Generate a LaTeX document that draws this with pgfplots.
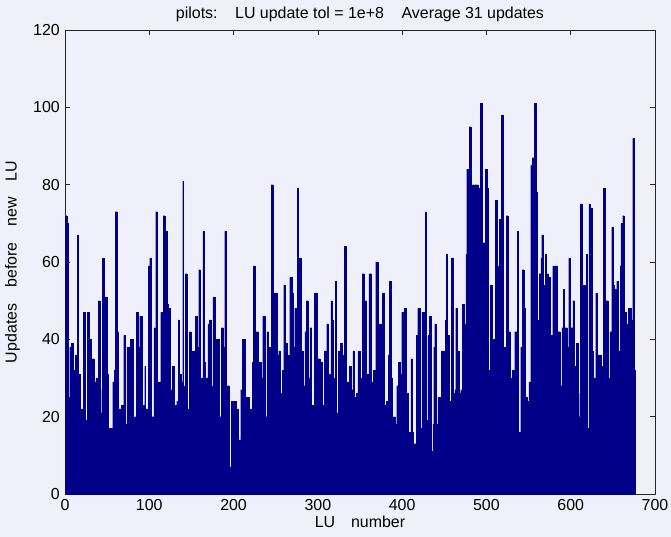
\documentclass[border=0pt]{standalone}
\usepackage{pgfplots}
\usepackage{pgfplotstable}
\pgfplotsset{compat=1.18}
\usepackage{fontspec}
\setmainfont{Liberation Sans}
\definecolor{bgcol}{RGB}{240,240,250}
\definecolor{barcol}{RGB}{0,0,136}

% updates per LU factorization, bars 1..676
\pgfplotstableread[row sep=\\]{
v\\
72\\ 72\\ 70\\ 25\\ 25\\ 38\\ 38\\ 39\\ 39\\ 32\\
32\\ 31\\ 36\\ 31\\ 67\\ 31\\ 31\\ 12\\ 22\\ 22\\
10\\ 47\\ 47\\ 19\\ 9\\ 19\\ 47\\ 47\\ 40\\ 40\\
32\\ 28\\ 35\\ 35\\ 29\\ 29\\ 30\\ 30\\ 30\\ 50\\
50\\ 21\\ 21\\ 27\\ 61\\ 61\\ 51\\ 51\\ 51\\ 31\\
31\\ 12\\ 17\\ 17\\ 17\\ 17\\ 29\\ 29\\ 32\\ 73\\
73\\ 42\\ 42\\ 22\\ 22\\ 22\\ 23\\ 23\\ 23\\ 41\\
41\\ 18\\ 18\\ 38\\ 38\\ 29\\ 29\\ 40\\ 40\\ 40\\
19\\ 19\\ 20\\ 20\\ 47\\ 47\\ 38\\ 38\\ 46\\ 46\\
46\\ 23\\ 23\\ 10\\ 33\\ 22\\ 22\\ 22\\ 59\\ 59\\
61\\ 61\\ 20\\ 20\\ 20\\ 43\\ 10\\ 73\\ 73\\ 20\\
29\\ 29\\ 29\\ 47\\ 47\\ 47\\ 72\\ 72\\ 68\\ 68\\
49\\ 49\\ 48\\ 48\\ 8\\ 27\\ 27\\ 33\\ 33\\ 23\\
23\\ 23\\ 24\\ 4\\ 45\\ 31\\ 31\\ 29\\ 29\\ 81\\
28\\ 4\\ 57\\ 57\\ 22\\ 22\\ 22\\ 42\\ 42\\ 37\\
25\\ 37\\ 37\\ 37\\ 46\\ 46\\ 38\\ 38\\ 58\\ 58\\
30\\ 30\\ 30\\ 68\\ 34\\ 34\\ 30\\ 30\\ 30\\ 44\\
44\\ 45\\ 45\\ 28\\ 18\\ 51\\ 51\\ 40\\ 40\\ 40\\
40\\ 40\\ 12\\ 20\\ 20\\ 43\\ 43\\ 38\\ 38\\ 68\\
20\\ 20\\ 28\\ 28\\ 7\\ 7\\ 7\\ 24\\ 24\\ 24\\
24\\ 24\\ 24\\ 22\\ 22\\ 14\\ 14\\ 14\\ 27\\ 27\\
40\\ 40\\ 40\\ 25\\ 25\\ 25\\ 25\\ 25\\ 22\\ 22\\
15\\ 15\\ 34\\ 59\\ 59\\ 42\\ 42\\ 42\\ 42\\ 34\\
34\\ 34\\ 30\\ 30\\ 46\\ 46\\ 46\\ 20\\ 20\\ 42\\
42\\ 28\\ 38\\ 38\\ 80\\ 80\\ 49\\ 49\\ 52\\ 52\\
52\\ 36\\ 16\\ 37\\ 37\\ 26\\ 26\\ 32\\ 32\\ 54\\
54\\ 39\\ 39\\ 36\\ 36\\ 17\\ 56\\ 56\\ 56\\ 52\\
38\\ 38\\ 48\\ 48\\ 38\\ 79\\ 61\\ 61\\ 61\\ 37\\
22\\ 37\\ 28\\ 28\\ 42\\ 42\\ 50\\ 50\\ 30\\ 30\\
43\\ 43\\ 23\\ 23\\ 23\\ 52\\ 52\\ 52\\ 24\\ 24\\
35\\ 35\\ 34\\ 34\\ 34\\ 23\\ 23\\ 37\\ 37\\ 37\\
44\\ 44\\ 31\\ 31\\ 31\\ 50\\ 45\\ 45\\ 30\\ 30\\
55\\ 21\\ 21\\ 21\\ 37\\ 37\\ 39\\ 39\\ 36\\ 36\\
36\\ 64\\ 64\\ 29\\ 29\\ 29\\ 15\\ 33\\ 33\\ 27\\
27\\ 37\\ 37\\ 25\\ 12\\ 26\\ 26\\ 37\\ 37\\ 30\\
30\\ 30\\ 57\\ 57\\ 22\\ 50\\ 50\\ 31\\ 31\\ 31\\
57\\ 57\\ 57\\ 29\\ 4\\ 32\\ 32\\ 32\\ 60\\ 60\\
60\\ 44\\ 44\\ 44\\ 16\\ 16\\ 52\\ 52\\ 23\\ 23\\
23\\ 24\\ 24\\ 36\\ 55\\ 55\\ 30\\ 30\\ 20\\ 10\\
20\\ 18\\ 18\\ 28\\ 28\\ 34\\ 34\\ 31\\ 31\\ 47\\
47\\ 47\\ 48\\ 48\\ 26\\ 26\\ 23\\ 8\\ 16\\ 16\\
35\\ 16\\ 16\\ 4\\ 13\\ 13\\ 41\\ 41\\ 48\\ 48\\
48\\ 17\\ 4\\ 47\\ 47\\ 38\\ 38\\ 73\\ 19\\ 19\\
41\\ 41\\ 46\\ 46\\ 11\\ 11\\ 18\\ 38\\ 44\\ 44\\
18\\ 8\\ 25\\ 25\\ 24\\ 24\\ 37\\ 37\\ 37\\ 10\\
10\\ 45\\ 62\\ 41\\ 41\\ 24\\ 24\\ 24\\ 61\\ 61\\
26\\ 26\\ 27\\ 48\\ 48\\ 37\\ 37\\ 26\\ 26\\ 27\\
8\\ 49\\ 49\\ 44\\ 44\\ 62\\ 84\\ 84\\ 74\\ 95\\
95\\ 57\\ 57\\ 80\\ 80\\ 37\\ 80\\ 80\\ 80\\ 77\\
77\\ 79\\ 101\\ 101\\ 65\\ 65\\ 65\\ 30\\ 84\\ 84\\
79\\ 79\\ 32\\ 30\\ 54\\ 54\\ 40\\ 40\\ 24\\ 24\\
76\\ 76\\ 23\\ 59\\ 59\\ 71\\ 71\\ 98\\ 98\\ 30\\
30\\ 38\\ 38\\ 72\\ 72\\ 10\\ 42\\ 42\\ 30\\ 30\\
32\\ 32\\ 32\\ 42\\ 42\\ 42\\ 68\\ 13\\ 16\\ 16\\
38\\ 38\\ 58\\ 58\\ 48\\ 25\\ 25\\ 25\\ 24\\ 24\\
29\\ 29\\ 85\\ 85\\ 87\\ 87\\ 101\\ 101\\ 78\\ 78\\
45\\ 45\\ 57\\ 57\\ 61\\ 67\\ 67\\ 54\\ 54\\ 62\\
8\\ 57\\ 57\\ 56\\ 56\\ 41\\ 41\\ 41\\ 59\\ 59\\
28\\ 59\\ 59\\ 42\\ 42\\ 42\\ 42\\ 28\\ 28\\ 43\\
43\\ 53\\ 43\\ 43\\ 43\\ 38\\ 38\\ 61\\ 61\\ 43\\
43\\ 43\\ 50\\ 50\\ 33\\ 33\\ 39\\ 39\\ 20\\ 20\\
26\\ 75\\ 75\\ 47\\ 54\\ 54\\ 33\\ 33\\ 62\\ 17\\
17\\ 75\\ 75\\ 74\\ 74\\ 37\\ 30\\ 30\\ 30\\ 52\\
52\\ 36\\ 36\\ 3\\ 36\\ 36\\ 33\\ 33\\ 79\\ 79\\
50\\ 50\\ 50\\ 50\\ 30\\ 10\\ 42\\ 42\\ 69\\ 69\\
54\\ 16\\ 53\\ 53\\ 55\\ 55\\ 37\\ 37\\ 59\\ 70\\
70\\ 72\\ 72\\ 47\\ 47\\ 44\\ 41\\ 41\\ 48\\ 48\\
48\\ 45\\ 45\\ 92\\ 92\\ 32\\
}\lutab

\begin{document}
\begin{tikzpicture}
\fill[bgcol] (-65bp,-43bp) rectangle (606bp,494bp);
\useasboundingbox (-65bp,-43bp) rectangle (606bp,494bp);
\begin{axis}[
    at={(0,0)}, anchor=south west,
    width=590bp, height=464bp, scale only axis,
    xmin=0, xmax=700, ymin=0, ymax=120,
    xtick={0,100,...,700}, ytick={0,20,...,120},
    tick align=inside, tick pos=both,
    major tick length=5bp,
    axis line style={black!85, line width=0.6pt},
    tick style={black!85, line width=0.5pt},
    font=\fontsize{16}{18}\selectfont,
    /pgf/number format/assume math mode=true,
    xticklabel style={inner sep=0pt, yshift=-5bp},
    yticklabel style={inner sep=0pt, xshift=-5bp},
    title={pilots:\hspace{1.1em}LU update tol = 1e+8\hspace{1.1em}Average 31 updates},
    title style={at={(axis description cs:0.5,1)}, anchor=south, inner sep=0pt, yshift=2bp},
    xlabel={LU\hspace{1em}number},
    xlabel style={at={(axis description cs:0.5,0)}, anchor=north, inner sep=0pt, yshift=-22bp},
    ylabel={Updates\hspace{1em}before\hspace{1em}new\hspace{1em}LU},
    ylabel style={at={(axis description cs:-0.076,0.5)}, anchor=south, inner sep=0pt},
]
\addplot[ybar, bar width=1, bar shift=0pt, fill=barcol, draw=barcol, line width=0.1pt]
    table[x expr=\coordindex+1, y=v] {\lutab};
\end{axis}
\end{tikzpicture}
\end{document}
